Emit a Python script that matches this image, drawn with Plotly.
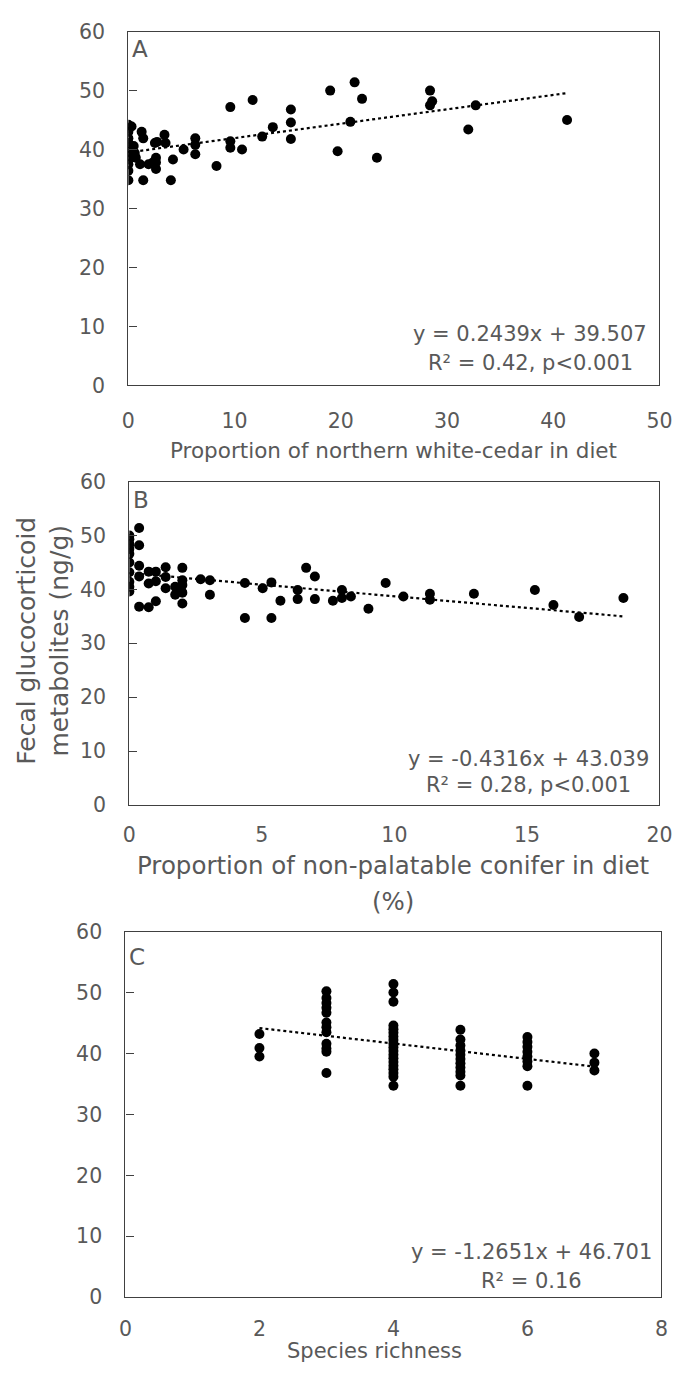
import plotly.graph_objects as go

# Panel A: proportion of northern white-cedar in diet (%) vs FGM (ng/g)
cedar_x = [0, 0, 0, 0, 0, 0, 0, 0, 0, 0, 0, 0,
           0.3, 0.5, 0.6, 0.7, 1.1, 1.25, 1.4, 1.4, 1.9, 2.3, 2.5, 2.7, 2.6, 2.6, 2.6,
           3.4, 3.5, 4.2, 4.0, 5.2, 6.3, 6.3, 6.3, 8.3, 9.6, 9.6, 9.6, 10.7, 11.7,
           12.6, 13.6, 15.3, 15.3, 15.3, 19.0, 19.7, 21.3, 22.0, 20.9, 23.4,
           28.4, 28.6, 28.4, 32.7, 32.0, 41.3]
cedar_y = [44.2, 43.6, 43.0, 41.9, 41.1, 40.3, 39.6, 38.9, 38.3, 37.5, 36.4, 34.8,
           43.9, 40.6, 39.4, 38.6, 37.5, 43.0, 41.9, 34.8, 37.5, 37.8, 41.1, 41.3, 38.6, 37.8, 36.7,
           42.5, 41.1, 38.3, 34.8, 40.0, 41.9, 40.8, 39.2, 37.2, 47.2, 41.4, 40.3, 40.0, 48.4,
           42.2, 43.8, 46.8, 44.6, 41.8, 50.0, 39.7, 51.4, 48.6, 44.7, 38.6,
           50.0, 48.2, 47.5, 47.5, 43.4, 45.0]

# Panel B: proportion of non-palatable conifer in diet (%) vs FGM (ng/g)
conifer_x = [0, 0, 0, 0, 0, 0, 0, 0, 0, 0,
             0.37, 0.37, 0.37, 0.37, 0.37, 0.73, 0.73, 0.73, 1.0, 1.0, 1.0,
             1.37, 1.37, 1.37, 1.73, 1.73, 2.0, 2.0, 2.0, 2.0, 2.0,
             2.69, 3.04, 3.04, 4.36, 4.36, 5.03, 5.36, 5.36, 5.7, 6.35, 6.35,
             6.67, 7.0, 7.0, 7.68, 8.02, 8.02, 8.36, 9.02, 9.67, 10.34,
             11.34, 11.34, 13.0, 15.3, 16.0, 16.97, 18.64]
conifer_y = [50.0, 49.3, 48.4, 47.5, 46.6, 45.0, 43.2, 41.4, 40.5, 39.6,
             51.4, 48.2, 44.4, 42.4, 36.8, 43.3, 41.1, 36.7, 43.3, 41.5, 37.8,
             44.1, 42.3, 40.2, 40.5, 39.0, 44.0, 41.7, 40.8, 39.4, 37.4,
             41.9, 41.7, 39.0, 41.2, 34.7, 40.2, 41.3, 34.7, 37.9, 39.9, 38.2,
             44.0, 42.4, 38.2, 37.9, 39.9, 38.4, 38.7, 36.4, 41.2, 38.7,
             39.2, 38.1, 39.2, 39.9, 37.1, 34.9, 38.4]

# Panel C: species richness vs FGM (ng/g)
richness_x = ([2] * 3 + [3] * 12 + [4] * 19 + [5] * 11 + [6] * 8 + [7] * 3)
richness_y = [43.2, 40.9, 39.5,
              50.2, 49.1, 48.3, 47.5, 46.7, 45.1, 44.3, 43.5, 41.6, 40.8, 40.3, 36.8,
              51.4, 50.0, 48.5, 44.6, 44.0, 43.4, 42.8, 42.2, 41.6, 41.0, 40.4, 39.8,
              39.2, 38.6, 38.0, 37.4, 36.8, 36.2, 34.7,
              43.9, 42.3, 41.3, 40.5, 39.8, 39.1, 38.4, 37.7, 37.0, 36.4, 34.7,
              42.7, 41.9, 41.1, 40.3, 39.5, 38.7, 37.9, 34.7,
              40.0, 38.5, 37.2]

# Linear trend coefficients (slope, intercept) and fitted x-span per panel
fits = {
    "A": (0.2439, 39.507, 0.0, 41.3),
    "B": (-0.4316, 43.039, 0.0, 18.6),
    "C": (-1.2651, 46.701, 2.0, 7.0),
}
eq_text = {
    "A": ("y = 0.2439x + 39.507", "R² = 0.42, p<0.001"),
    "B": ("y = -0.4316x + 43.039", "R² = 0.28, p<0.001"),
    "C": ("y = -1.2651x + 46.701", "R² = 0.16"),
}

W, H = 688, 1375
FONT = "DejaVu Sans"
GREY = "#595959"
LINE = "#404040"


def px(x):
    return x / W


def py(y):
    return 1 - y / H


fig = go.Figure()

panels = [
    ("A", cedar_x, cedar_y, "x", "y"),
    ("B", conifer_x, conifer_y, "x2", "y2"),
    ("C", richness_x, richness_y, "x3", "y3"),
]
for key, xs, ys, xa, ya in panels:
    fig.add_trace(go.Scatter(x=xs, y=ys, mode="markers", xaxis=xa, yaxis=ya,
                             marker=dict(color="black", size=10),
                             showlegend=False, hoverinfo="skip"))
    m, b, x0, x1 = fits[key]
    fig.add_trace(go.Scatter(x=[x0, x1], y=[m * x0 + b, m * x1 + b], mode="lines",
                             xaxis=xa, yaxis=ya,
                             line=dict(color="black", width=2.2, dash="dot"),
                             showlegend=False, hoverinfo="skip"))

# Plot-area boxes in pixels: (left, right, top, bottom) and x tick-label standoff
boxes = {
    "A": (125, 672, 20, 380, 17),
    "B": (126, 672, 478, 807, 11),
    "C": (122, 674, 936, 1308, 13),
}
xranges = {"A": ([0, 50], 10), "B": ([0, 20], 5), "C": ([0, 8], 2)}
axis_names = {"A": ("xaxis", "yaxis"), "B": ("xaxis2", "yaxis2"), "C": ("xaxis3", "yaxis3")}

for key, (l, r, t, bt, xstand) in boxes.items():
    xn, yn = axis_names[key]
    rng, dt = xranges[key]
    fig.layout[xn] = dict(domain=[px(l), px(r)], range=rng, dtick=dt, tick0=0,
                          showline=True, mirror=True, linecolor=LINE, linewidth=1.3,
                          showgrid=False, zeroline=False, ticks="",
                          ticklabelstandoff=xstand,
                          tickfont=dict(family=FONT, size=20.5, color=GREY),
                          anchor=yn.replace("axis", ""), fixedrange=True)
    fig.layout[yn] = dict(domain=[py(bt), py(t)], range=[0, 60], dtick=10, tick0=0,
                          showline=True, mirror=True, linecolor=LINE, linewidth=1.3,
                          showgrid=False, zeroline=False, ticks="inside", ticklen=8,
                          tickcolor=LINE, tickwidth=1.3,
                          ticklabelstandoff=18,
                          tickfont=dict(family=FONT, size=20.5, color=GREY),
                          anchor=xn.replace("axis", ""), fixedrange=True)

annotations = []


def note(text, x, y, size, xanchor="center", angle=0):
    annotations.append(dict(text=text, x=px(x), y=py(y), xref="paper", yref="paper",
                            showarrow=False, xanchor=xanchor, yanchor="middle",
                            textangle=angle, borderpad=0,
                            font=dict(family=FONT, size=size, color=GREY)))


# Panel letters
note("A", 128, 38, 23, "left")
note("B", 129, 497, 23, "left")
note("C", 125, 962, 23, "left")

# Regression equations
eq_pos = {"A": (539, 328, 357), "B": (537, 760, 787), "C": (540, 1262, 1292)}
for key, (cx, y1, y2) in eq_pos.items():
    note(eq_text[key][0], cx, y1, 21)
    note(eq_text[key][1], cx, y2, 21)

# Axis titles
note("Proportion of northern white-cedar in diet", 398, 446, 21.5)
note("Proportion of non-palatable conifer in diet", 398, 869, 24.5)
note("(%)", 398, 905, 24.5)
note("Species richness", 378, 1363, 21)
note("Fecal glucocorticoid<br>metabolites (ng/g)", 37, 640, 25, angle=-90)

fig.update_layout(width=W, height=H, margin=dict(l=0, r=0, t=0, b=0),
                  paper_bgcolor="white", plot_bgcolor="white",
                  annotations=annotations)

fig.write_html("out.html", config={"displayModeBar": False, "responsive": False})

# Keep the page exactly the figure's size (no default body margin / scrollbars)
with open("out.html", encoding="utf-8") as f:
    page = f.read()
page = page.replace("<head>", "<head><style>html,body{margin:0;padding:0;overflow:hidden;}</style>", 1)
with open("out.html", "w", encoding="utf-8") as f:
    f.write(page)
